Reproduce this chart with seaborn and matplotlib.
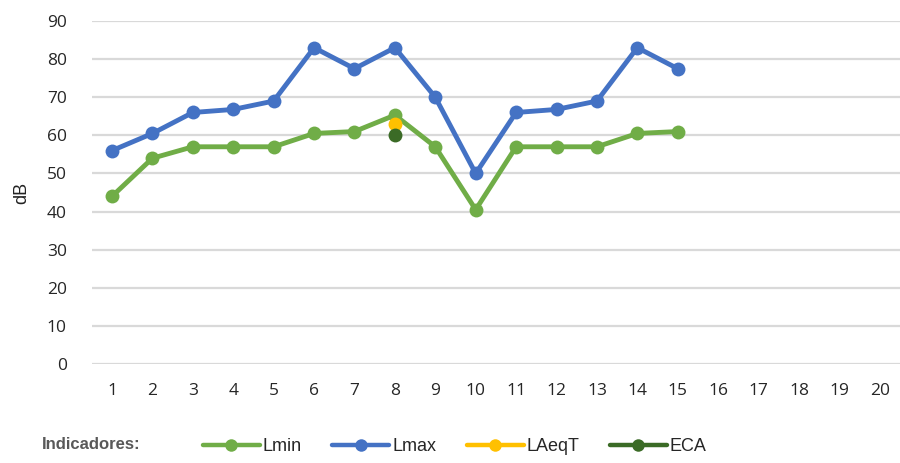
import matplotlib
matplotlib.use("Agg")
import matplotlib.pyplot as plt
from matplotlib.lines import Line2D
from matplotlib import font_manager
import seaborn as sns
import pandas as pd

x_lmin = list(range(1, 16))
lmin = [44, 54, 57, 57, 57, 60.5, 61, 65.3, 57, 40.5, 57, 57, 57, 60.5, 61]
x_lmax = list(range(1, 16))
lmax = [56, 60.5, 66, 66.8, 69, 83, 77.5, 83, 70, 50, 66, 66.8, 69, 83, 77.5]
x_laeqt = [8]
laeqt = [63]
x_eca = [8]
eca = [60]
series_names = ["Lmin", "Lmax", "LAeqT", "ECA"]
colors = ["#70ad47", "#4472c4", "#ffc000", "#3b6b26"]
x_ticks = list(range(1, 21))
y_ticks = list(range(0, 100, 10))

rows = []
for name, xs, ys in zip(series_names, [x_lmin, x_lmax, x_laeqt, x_eca], [lmin, lmax, laeqt, eca]):
    for xv, yv in zip(xs, ys):
        rows.append({"x": xv, "y": yv, "serie": name})
df = pd.DataFrame(rows)

sns.set_style("white")
plt.rcParams["font.family"] = ["Liberation Sans", "DejaVu Sans"]

available = {f.name for f in font_manager.fontManager.ttflist}
tick_family = "Open Sans" if "Open Sans" in available else "Liberation Sans"

fig = plt.figure(figsize=(9, 4.63), dpi=100)
ax = fig.add_axes([0.102, 0.2138, 0.898, 0.7408])
for y in y_ticks:
    ax.axhline(y, color="#d9d9d9", lw=1.6, zorder=0)

pal = dict(zip(series_names, colors))
sns.lineplot(data=df, x="x", y="y", hue="serie", palette=pal, marker="o",
             markersize=10, markeredgewidth=0, linewidth=3.5, ax=ax, legend=False,
             estimator=None, sort=False)

ax.set_xlim(0.5, 20.5)
ax.set_ylim(0, 90)
ax.set_xticks(x_ticks)
ax.set_yticks(y_ticks)
ax.tick_params(axis="both", length=0, labelsize=12.5, colors="#262626")
ax.tick_params(axis="x", pad=14)
ax.tick_params(axis="y", pad=18)
for lab in ax.get_xticklabels() + ax.get_yticklabels():
    lab.set_family(tick_family)
ax.set_xlabel("")
ax.set_ylabel("dB", fontsize=13, color="#222222", labelpad=12)
for s in ax.spines.values():
    s.set_visible(False)

handles = [Line2D([0], [0], color=c, lw=3.2, marker="o", markersize=9, markeredgewidth=0)
           for c in colors]
fig.legend(handles, series_names, loc="center left", bbox_to_anchor=(0.2256, 0.0346),
           ncol=4, frameon=False, prop={"size": 13}, borderpad=0, borderaxespad=0,
           handlelength=3.15, handletextpad=0.15, columnspacing=1.7)
fig.text(0.047, 0.040, "Indicadores:", fontsize=12, fontweight="bold", color="#595959",
         va="center")

fig.savefig("out.png", dpi=100)
